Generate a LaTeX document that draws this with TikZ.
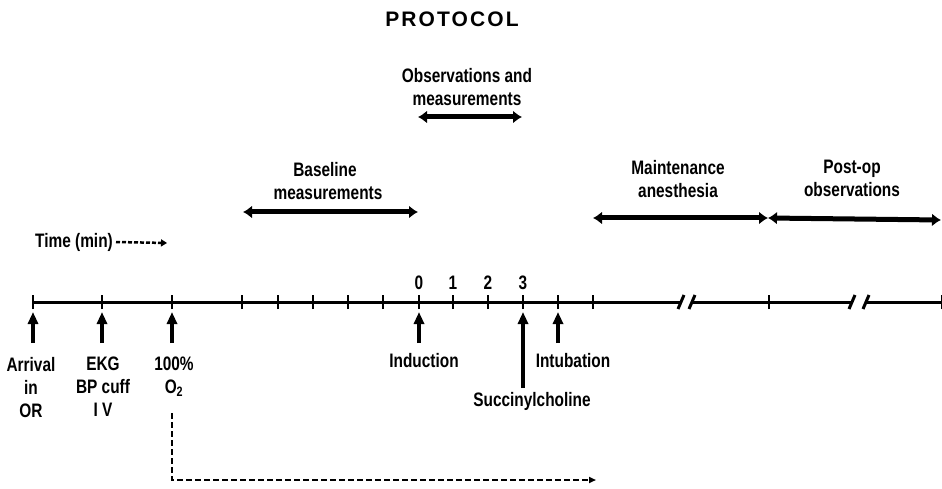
\documentclass[tikz,border=0pt]{standalone}
\usepackage{fontspec}
\setmainfont[FakeStretch=0.79,UprightFont=* Bold]{Liberation Sans}
\newfontfamily\titlefont[LetterSpace=10]{Liberation Sans}
\usetikzlibrary{arrows.meta,positioning}

\begin{document}
\begin{tikzpicture}[x=1pt,y=-1pt,
  lbl/.style={font=\fontsize{19.5}{23}\selectfont,align=center,inner sep=0pt},
  axis/.style={line width=3pt},
  tickmark/.style={line width=2pt},
  span/.style={{Latex[length=9pt,width=13pt]}-{Latex[length=9pt,width=13pt]},line width=5pt},
  up/.style={-{Triangle[length=12pt,width=10pt]},line width=3.5pt},
  guide/.style={line width=1.8pt,dash pattern=on 6pt off 3pt,-{Triangle[length=7pt,width=6pt]}},
  timeline/.style={line width=2.5pt,dash pattern=on 4pt off 2pt,-{Triangle[length=6pt,width=7pt]}}]
\useasboundingbox (0,0) rectangle (942,489);
\node[font=\titlefont\bfseries\fontsize{21}{25}\selectfont,inner sep=0pt] (title) at (452,19) {PROTOCOL};
\foreach \x [count=\i] in {33,102,172,242,278,313,348,383,419,453,488,523,558,593,769,942}
  \coordinate (t\i) at (\x,302);
\coordinate (b1) at (681,302);
\coordinate (b2) at (692,302);
\coordinate (b3) at (852,302);
\coordinate (b4) at (866,302);
\draw[axis] (t1) -- (b1) (b2) -- (b3) (b4) -- (t16);
\foreach \b in {b1,b2,b3,b4}
  \draw[axis] ([shift={(-3,7)}]\b) -- ([shift={(3,-7)}]\b);
\foreach \i in {1,...,16}
  \draw[tickmark] ([yshift=-7pt]t\i) -- ([yshift=7pt]t\i);
\foreach \n/\i in {0/9,1/10,2/11,3/12}
  \node[lbl,above=12pt of t\i] (n\n) {\n};
\node[lbl,anchor=north] (obs) at (467,68) {Observations and\\measurements};
\node[lbl,anchor=north] (base) at (325,162) {Baseline\\\hspace*{6pt}measurements};
\node[lbl,anchor=north] (maint) at (678,160) {Maintenance\\anesthesia};
\node[lbl,anchor=north] (post) at (852,160) {Post-op\\observations};
\coordinate (o1) at (418,117);
\coordinate (o2) at (522,117);
\coordinate (s1) at (243,212);
\coordinate (s2) at (418,212);
\coordinate (m1) at (593,218);
\coordinate (m2) at (768,218);
\coordinate (m3) at (941,220);
\draw[span] (o1) -- (o2);
\draw[span] (s1) -- (s2);
\draw[span] (m1) -- (m2);
\draw[span] (m2) -- (m3);
\node[lbl,anchor=west] (time) at (35,242) {Time (min)};
\coordinate (tend) at (167,243);
\draw[timeline] ([xshift=3pt]time.east) -- (tend);
\node[lbl,anchor=north] (arr) at (31,357) {Arrival\\in\\OR};
\node[lbl,anchor=north] (ekg) at (103,357) {EKG\\BP cuff\\I V};
\node[lbl,anchor=north] (oxy) at (174,357) {100\%\\O\textsubscript{2}};
\node[lbl,anchor=north] (ind) at (424,353) {Induction};
\node[lbl,anchor=north] (intub) at (573,353) {Intubation};
\node[lbl,anchor=north] (succ) at (532,392) {Succinylcholine};
\coordinate (u1) at (33,343);
\coordinate (u2) at (102,343);
\coordinate (u3) at (172,343);
\coordinate (u9) at (419,343);
\coordinate (u12) at (523,388);
\coordinate (u13) at (558,343);
\foreach \i in {1,2,3,9,12,13}
  \draw[up,shorten >=10pt] (u\i) -- (t\i);
\coordinate (d1) at (172,413);
\coordinate (d2) at (596,480);
\draw[guide] (d1) |- (d2);
\end{tikzpicture}
\end{document}
